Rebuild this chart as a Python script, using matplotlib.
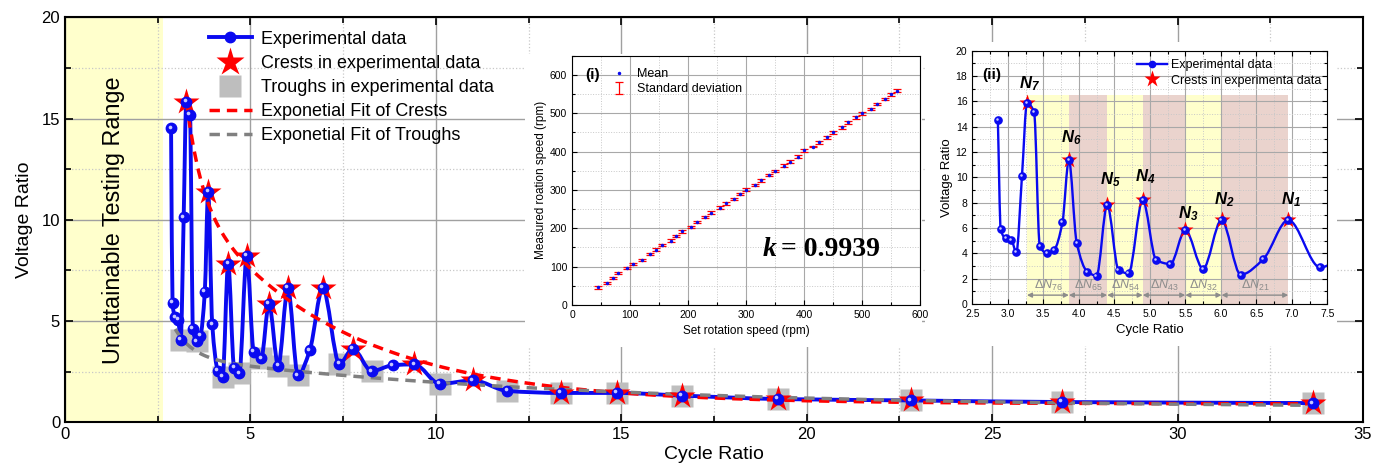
import numpy as np
import matplotlib
matplotlib.use("Agg")
import matplotlib.pyplot as plt
from matplotlib.path import Path
from matplotlib.patches import PathPatch, Rectangle
from matplotlib.lines import Line2D
from matplotlib.ticker import MultipleLocator
import matplotlib.transforms as mtransforms

plt.rcParams['font.family'] = ['Liberation Sans', 'DejaVu Sans']
plt.rcParams['mathtext.fontset'] = 'custom'
plt.rcParams['mathtext.rm'] = 'Liberation Sans'
plt.rcParams['mathtext.it'] = 'Liberation Sans:italic'
plt.rcParams['mathtext.bf'] = 'Liberation Sans:italic:bold'

# ---- main data (cycle ratio vs voltage ratio) ----
cycle_ratio = [2.86, 2.90, 2.97, 3.05, 3.12, 3.20, 3.27, 3.37, 3.45, 3.55, 3.65, 3.77, 3.86,
               3.97, 4.12, 4.25, 4.40, 4.56, 4.70, 4.90, 5.09, 5.29, 5.50, 5.75, 6.01, 6.28,
               6.60, 6.95, 7.40, 7.76, 8.27, 8.84, 9.42, 10.11, 11.00, 11.93, 13.37, 14.88,
               16.63, 19.22, 22.81, 26.88, 33.65]
voltage_ratio = [14.53, 5.89, 5.18, 5.05, 4.08, 10.13, 15.84, 15.18, 4.61, 4.00, 4.26, 6.45, 11.37,
                 4.84, 2.55, 2.24, 7.82, 2.68, 2.42, 8.21, 3.47, 3.16, 5.84, 2.79, 6.63, 2.32,
                 3.55, 6.63, 2.89, 3.63, 2.53, 2.82, 2.86, 1.90, 2.07, 1.55, 1.45, 1.45,
                 1.32, 1.15, 1.08, 1.00, 0.95]

crest_x = [3.27, 3.86, 4.40, 4.90, 5.50, 6.01, 6.95, 7.76, 9.42, 11.00, 13.37, 14.88,
           16.63, 19.22, 22.81, 26.88, 33.65]
crest_y = [15.84, 11.37, 7.82, 8.21, 5.84, 6.63, 6.63, 3.63, 2.86, 2.07, 1.45, 1.45,
           1.32, 1.15, 1.08, 1.00, 0.95]

trough_x = [3.12, 3.55, 4.25, 4.70, 5.29, 5.75, 6.28, 7.40, 8.27, 10.11, 11.93, 13.37,
            14.88, 16.63, 19.22, 22.81, 26.88, 33.65]
trough_y = [4.08, 4.00, 2.24, 2.42, 3.16, 2.79, 2.32, 2.89, 2.53, 1.90, 1.55, 1.45,
            1.45, 1.32, 1.15, 1.08, 1.00, 0.95]

crest_names = ['N_7', 'N_6', 'N_5', 'N_4', 'N_3', 'N_2', 'N_1']
delta_names = ['76', '65', '54', '43', '32', '21']

# ---- inset (i): set vs measured rotation speed ----
set_speed = [45, 60, 70, 80, 95, 105, 120, 135, 145, 155, 170, 180, 190, 205, 215, 230, 240,
             255, 265, 280, 290, 300, 315, 325, 340, 350, 365, 375, 390, 400, 415, 425, 440,
             450, 465, 475, 490, 500, 515, 525, 540, 550, 561]
measured_speed = [46, 58, 70, 83, 96, 107, 118, 133, 144, 157, 168, 180, 192, 204, 216, 229,
                  241, 254, 265, 277, 289, 300, 313, 325, 339, 350, 363, 374, 387, 403, 413,
                  424, 437, 450, 463, 476, 489, 500, 511, 524, 537, 550, 559]
speed_std = [3, 3, 3, 3, 3, 3, 3, 3, 4, 3, 3, 3, 3, 3, 2, 3, 4, 3, 3, 3, 3, 4, 3, 3, 3, 3,
             4, 3, 3, 3, 2, 4, 3, 4, 3, 3, 3, 4, 3, 3, 3, 4, 4]

BLUE = '#0a0af0'
RED = '#ff0000'
SQ_GREY = '#bebebe'
FIT_GREY = '#808080'


def smooth_path(xs, ys):
    # monotone cubic (pchip-like) connection drawn as bezier segments
    x = np.asarray(xs, float)
    y = np.asarray(ys, float)
    h = np.diff(x)
    delta = np.diff(y) / h
    d = np.zeros_like(y)
    for k in range(1, len(x) - 1):
        if delta[k - 1] * delta[k] > 0:
            w1 = 2 * h[k] + h[k - 1]
            w2 = h[k] + 2 * h[k - 1]
            d[k] = (w1 + w2) / (w1 / delta[k - 1] + w2 / delta[k])
    d[0] = delta[0]
    d[-1] = delta[-1]
    verts = [(x[0], y[0])]
    codes = [Path.MOVETO]
    for k in range(len(x) - 1):
        verts += [(x[k] + h[k] / 3, y[k] + d[k] * h[k] / 3),
                  (x[k + 1] - h[k] / 3, y[k + 1] - d[k + 1] * h[k] / 3),
                  (x[k + 1], y[k + 1])]
        codes += [Path.CURVE4] * 3
    return Path(verts, codes)


def exp_fit(xs, ys):
    # y = y0 + A1*exp(-x/t1) + A2*exp(-x/t2), least squares over a grid of t1, t2
    x = np.asarray(xs, float)
    y = np.asarray(ys, float)
    best = None
    for t1 in np.linspace(0.3, 6, 58):
        for t2 in np.linspace(1, 30, 59):
            if t2 <= t1:
                continue
            M = np.column_stack([np.ones_like(x), np.exp(-x / t1), np.exp(-x / t2)])
            coef = np.linalg.lstsq(M, y, rcond=None)[0]
            if (coef[1:] < 0).any():
                continue
            sse = ((M @ coef - y) ** 2).sum()
            if best is None or sse < best[0]:
                best = (sse, t1, t2, coef)
    _, t1, t2, c = best
    return lambda xx: c[0] + c[1] * np.exp(-xx / t1) + c[2] * np.exp(-xx / t2)


def balls(ax, x, y, ms, z):
    ax.plot(x, y, 'o', ms=ms, color=BLUE, mec=BLUE, zorder=z)
    off = mtransforms.offset_copy(ax.transData, fig=ax.figure, x=-ms * 0.15, y=ms * 0.15, units='points')
    ax.plot(x, y, 'o', ms=ms * 0.35, color='#c8c8ff', mec='none', transform=off, zorder=z + 0.1)


fig = plt.figure(figsize=(13.84, 4.74), dpi=100)
W, H = 1384, 474

# ================= main axes =================
ax = fig.add_axes([65 / W, 1 - 422.3 / H, 1298 / W, 405 / H])
ax.set_xlim(0, 35)
ax.set_ylim(0, 20)
ax.axvspan(0, 2.65, color='#ffffcc', zorder=0.2, lw=0)
ax.set_axisbelow(True)
ax.xaxis.set_major_locator(MultipleLocator(5))
ax.xaxis.set_minor_locator(MultipleLocator(2.5))
ax.yaxis.set_major_locator(MultipleLocator(5))
ax.yaxis.set_minor_locator(MultipleLocator(2.5))
ax.grid(which='major', color='#a0a0a0', lw=1.0, ls='-')
ax.grid(which='minor', color='#c8c8c8', lw=0.9, ls=':')
ax.tick_params(which='both', direction='in', top=True, right=True, labelsize=12, width=1.2)
ax.tick_params(which='major', length=6)
ax.tick_params(which='minor', length=4)
for s in ax.spines.values():
    s.set_linewidth(1.5)
ax.set_xlabel('Cycle Ratio', fontsize=14, labelpad=3)
ax.set_ylabel('Voltage Ratio', fontsize=14, labelpad=6)
ax.text(1.32, 10.0, 'Unattainable Testing Range', rotation=90, ha='center', va='center', fontsize=16.8)

ax.plot(trough_x, trough_y, 's', ms=16, color=SQ_GREY, mec='none', zorder=2)
ax.add_patch(PathPatch(smooth_path(cycle_ratio, voltage_ratio), fill=False, ec=BLUE, lw=2.8, zorder=3))
crest_fit = exp_fit(crest_x, crest_y)
trough_fit = exp_fit(trough_x, trough_y)
xc = np.linspace(crest_x[0], crest_x[-1], 300)
xt = np.linspace(trough_x[0] - 0.15, trough_x[-1], 300)
ax.plot(xc, crest_fit(xc), '--', color=RED, lw=2.5, dashes=(3, 2), zorder=4)
ax.plot(xt, trough_fit(xt), '--', color=FIT_GREY, lw=2.5, dashes=(3, 2), zorder=4)
ax.plot(crest_x, crest_y, '*', ms=20, color=RED, mec='none', zorder=5)
balls(ax, cycle_ratio, voltage_ratio, 7.5, 6)

handles = [
    Line2D([], [], color=BLUE, lw=2.8, marker='o', ms=7.5, mfc=BLUE, mec=BLUE),
    Line2D([], [], ls='none', marker='*', ms=21, color=RED, mec='none'),
    Line2D([], [], ls='none', marker='s', ms=16, color=SQ_GREY, mec='none'),
    Line2D([], [], color=RED, lw=2.5, ls='--', dashes=(3, 2)),
    Line2D([], [], color=FIT_GREY, lw=2.5, ls='--', dashes=(3, 2)),
]
labels = ['Experimental data', 'Crests in experimental data', 'Troughs in experimental data',
          'Exponetial Fit of Crests', 'Exponetial Fit of Troughs']
ax.legend(handles, labels, loc='upper left', bbox_to_anchor=(0.105, 0.985), frameon=False,
          fontsize=13, handlelength=2.4, labelspacing=0.4, handletextpad=0.5, borderaxespad=0)

# white backing behind the two insets
fig.add_artist(Rectangle((525 / W, 1 - 347 / H), (922 - 525) / W, (347 - 54) / H,
                         transform=fig.transFigure, fc='white', ec='none', zorder=1))
fig.add_artist(Rectangle((925 / W, 1 - 346 / H), (1337 - 925) / W, (346 - 42) / H,
                         transform=fig.transFigure, fc='white', ec='none', zorder=1))

# ================= inset (i) =================
a1 = fig.add_axes([572 / W, 1 - 305 / H, 348 / W, 249.3 / H], zorder=2)
a1.set_xlim(0, 600)
a1.set_ylim(0, 650)
a1.set_axisbelow(True)
a1.xaxis.set_major_locator(MultipleLocator(100))
a1.xaxis.set_minor_locator(MultipleLocator(50))
a1.yaxis.set_major_locator(MultipleLocator(100))
a1.yaxis.set_minor_locator(MultipleLocator(50))
a1.grid(which='major', color='#a8a8a8', lw=0.8)
a1.grid(which='minor', color='#c8c8c8', lw=0.7, ls=':')
a1.tick_params(which='both', direction='in', labelsize=7.5, width=0.8)
a1.tick_params(which='major', length=3.5)
a1.tick_params(which='minor', length=2)
eb = a1.errorbar(set_speed, measured_speed, yerr=speed_std, fmt='none', ecolor=RED, elinewidth=0.9,
                 capsize=3, capthick=0.9, zorder=3)
mean_pts, = a1.plot(set_speed, measured_speed, '.', ms=3, color=BLUE, zorder=4)
a1.set_xlabel('Set rotation speed (rpm)', fontsize=8.5, labelpad=4)
a1.set_ylabel('Measured roation speed (rpm)', fontsize=8.5, labelpad=2)
a1.text(22, 600, '(i)', fontsize=11, fontweight='bold', va='center')
a1.text(360, 145, '= 0.9939', fontsize=20, fontweight='bold', family='Liberation Serif', va='center')
a1.text(352, 145, 'k', fontsize=20, fontweight='bold', style='italic', family='Liberation Serif',
        va='center', ha='right')
a1.legend([mean_pts, eb], ['Mean', 'Standard deviation'], loc='upper left', bbox_to_anchor=(0.1, 0.97),
          frameon=False, fontsize=9, handlelength=1.2, labelspacing=0.25, borderaxespad=0)

# ================= inset (ii) =================
a2 = fig.add_axes([972.3 / W, 1 - 304 / H, 355 / W, 253.3 / H], zorder=2)
a2.set_xlim(2.5, 7.5)
a2.set_ylim(0, 20)
a2.set_axisbelow(True)
a2.xaxis.set_major_locator(MultipleLocator(0.5))
a2.xaxis.set_minor_locator(MultipleLocator(0.25))
a2.yaxis.set_major_locator(MultipleLocator(2))
a2.yaxis.set_minor_locator(MultipleLocator(1))
a2.grid(which='major', color='#a8a8a8', lw=0.8)
a2.grid(which='minor', color='#c8c8c8', lw=0.7, ls=':')
a2.tick_params(which='both', direction='in', top=True, right=True, labelsize=7.5, width=0.8)
a2.tick_params(which='major', length=3.5)
a2.tick_params(which='minor', length=2)
a2.xaxis.set_major_formatter(matplotlib.ticker.FormatStrFormatter('%.1f'))
a2.set_xlabel('Cycle Ratio', fontsize=9.5, labelpad=4)
a2.set_ylabel('Voltage Ratio', fontsize=9.5, labelpad=2)

bands = crest_x[:7]
for i in range(len(bands) - 1):
    a2.fill_between([bands[i], bands[i + 1]], 0, 16.5, color='#ffffcc' if i % 2 == 0 else '#ead3cd',
                    lw=0, zorder=0.2)
    a2.annotate('', xy=(bands[i], 0.7), xytext=(bands[i + 1], 0.7),
                arrowprops=dict(arrowstyle='<|-|>', color='#8c8c8c', lw=1.0, mutation_scale=7,
                                shrinkA=0, shrinkB=0), zorder=3)
    a2.text((bands[i] + bands[i + 1]) / 2, 1.5, r'$\Delta N_{%s}$' % delta_names[i], color='#8c8c8c',
            fontsize=9, ha='center', va='center', zorder=3)

a2.add_patch(PathPatch(smooth_path(cycle_ratio, voltage_ratio), fill=False, ec=BLUE, lw=1.7, zorder=3))
a2.plot(crest_x[:7], crest_y[:7], '*', ms=12.5, color=RED, mec='none', zorder=4)
balls(a2, cycle_ratio, voltage_ratio, 5.2, 5)
label_y = [17.4, 13.1, 9.8, 10.05, 7.16, 8.2, 8.2]
for cx, ly, name in zip(crest_x[:7], label_y, crest_names):
    a2.text(cx + 0.04, ly, r'$\mathbf{%s}$' % name, fontsize=12, ha='center', va='center', zorder=5)
a2.text(2.64, 18.1, '(ii)', fontsize=11, fontweight='bold', va='center')

h2 = [Line2D([], [], color=BLUE, lw=1.7, marker='o', ms=4.5, mfc=BLUE),
      Line2D([], [], ls='none', marker='*', ms=12.5, color=RED, mec='none')]
a2.legend(h2, ['Experimental data', 'Crests in experimenta data'], loc='upper right',
          bbox_to_anchor=(1.0, 0.99), frameon=False, fontsize=9, handlelength=2.4,
          labelspacing=0.25, handletextpad=0.3, borderaxespad=0.1)

fig.savefig('out.png', dpi=100)
